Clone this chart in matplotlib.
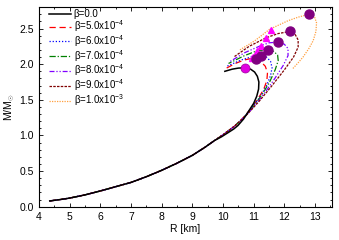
import numpy as np
import matplotlib.pyplot as plt
from matplotlib.ticker import MultipleLocator

plt.rcParams['font.family'] = ['Liberation Sans', 'DejaVu Sans']
plt.rcParams['mathtext.fontset'] = 'custom'
plt.rcParams['mathtext.rm'] = 'Liberation Sans'

# low-mass part shared by all curves
base_R = [4.35, 4.7, 5.0, 5.5, 6.0, 6.5, 7.0, 7.5, 8.0, 8.5, 9.0, 9.4, 9.73]
base_M = [0.08, 0.10, 0.12, 0.165, 0.22, 0.28, 0.34, 0.42, 0.51, 0.61, 0.72, 0.83, 0.93]

# beta = 0
R_b0 = base_R + [9.95, 10.17, 10.35, 10.49, 10.67, 10.82, 11.0, 11.1, 11.16, 11.17,
                 11.12, 11.03, 10.9, 10.73, 10.5, 10.3, 10.06]
M_b0 = base_M + [0.98, 1.04, 1.09, 1.14, 1.23, 1.33, 1.45, 1.55, 1.65, 1.75,
                 1.83, 1.89, 1.93, 1.95, 1.945, 1.93, 1.90]

# beta = 5e-4
R_b5 = base_R + [10.0, 10.3, 10.6, 10.9, 11.15, 11.33, 11.43, 11.45, 11.38, 11.25,
                 11.07, 10.93, 10.7, 10.4, 10.05]
M_b5 = base_M + [1.01, 1.10, 1.22, 1.37, 1.52, 1.65, 1.77, 1.88, 1.97, 2.03,
                 2.07, 2.08, 2.06, 2.01, 1.93]

# beta = 6e-4
R_b6 = base_R + [10.0, 10.32, 10.65, 10.95, 11.22, 11.42, 11.55, 11.6, 11.55, 11.42,
                 11.25, 10.98, 10.6, 10.12]
M_b6 = base_M + [1.01, 1.11, 1.24, 1.39, 1.55, 1.70, 1.84, 1.95, 2.04, 2.10,
                 2.12, 2.11, 2.06, 1.97]

# beta = 7e-4
R_b7 = base_R + [10.0, 10.35, 10.7, 11.02, 11.3, 11.52, 11.7, 11.8, 11.78, 11.65,
                 11.47, 11.12, 10.7, 10.18]
M_b7 = base_M + [1.01, 1.12, 1.26, 1.42, 1.59, 1.75, 1.92, 2.05, 2.13, 2.18,
                 2.20, 2.19, 2.12, 2.01]

# beta = 8e-4
R_b8 = base_R + [10.0, 10.38, 10.75, 11.1, 11.4, 11.69, 11.96, 12.12, 12.12, 12.0,
                 11.8, 11.5, 11.23, 10.7, 10.2]
M_b8 = base_M + [1.01, 1.13, 1.28, 1.45, 1.62, 1.80, 1.98, 2.12, 2.22, 2.28,
                 2.31, 2.30, 2.26, 2.16, 2.03]

# beta = 9e-4
R_b9 = base_R + [10.0, 10.4, 10.8, 11.2, 11.6, 12.0, 12.3, 12.45, 12.45, 12.35,
                 12.19, 11.8, 11.4, 10.85, 10.35]
M_b9 = base_M + [1.01, 1.14, 1.30, 1.49, 1.70, 1.92, 2.10, 2.24, 2.34, 2.42,
                 2.46, 2.43, 2.37, 2.25, 2.10]

# beta = 1e-3 (only upper part drawn)
R_b10 = [12.28, 12.45, 12.61, 12.8, 12.94, 13.03, 13.05, 12.98, 12.8, 12.45,
         12.12, 11.52, 11.04, 10.55]
M_b10 = [1.94, 2.02, 2.10, 2.22, 2.33, 2.46, 2.58, 2.67, 2.70, 2.66,
         2.61, 2.49, 2.33, 2.20]

# maximum-mass points
Rmax = [11.07, 11.25, 11.47, 11.8, 12.19, 12.8]
Mmax = [2.07, 2.12, 2.20, 2.31, 2.46, 2.70]
Rmax0, Mmax0 = 10.73, 1.95

# triangle markers
R_tri = [10.93, 10.98, 11.12, 11.23, 11.4, 11.55]
M_tri = [2.08, 2.10, 2.19, 2.26, 2.37, 2.48]

labels = ['β=0.0', 'β=5.0x10$^{-4}$', 'β=6.0x10$^{-4}$',
          'β=7.0x10$^{-4}$', 'β=8.0x10$^{-4}$', 'β=9.0x10$^{-4}$',
          'β=1.0x10$^{-3}$']

fig = plt.figure(figsize=(3.39, 2.40), dpi=100)
ax = fig.add_axes([0.115, 0.139, 0.864, 0.831])

ax.plot(R_b0, M_b0, color='black', lw=1.1, label=labels[0], zorder=5)
ax.plot(R_b5, M_b5, color='red', lw=0.9, ls=(0, (5, 3)), label=labels[1])
ax.plot(R_b6, M_b6, color='#0000ff', lw=0.9, ls=(0, (1, 1.5)), label=labels[2])
ax.plot(R_b7, M_b7, color='#008000', lw=0.9, ls=(0, (5, 1.5, 1, 1.5)), label=labels[3])
ax.plot(R_b8, M_b8, color='#8000ff', lw=0.9, ls=(0, (4, 1.5, 1, 1.5, 1, 1.5)), label=labels[4])
ax.plot(R_b9, M_b9, color='#800000', lw=0.9, ls=(0, (2, 1)), label=labels[5])
ax.plot(R_b10, M_b10, color='#ffa040', lw=0.9, ls=(0, (1, 1)), label=labels[6])

ax.plot(R_tri, M_tri, ls='none', marker='^', ms=5, color='#ff00ff', zorder=6)
ax.plot(Rmax, Mmax, ls='none', marker='o', ms=6.5, color='#800080', zorder=7)
ax.plot([Rmax0], [Mmax0], ls='none', marker='o', ms=6.5, color='#e000e0',
        mec='#a000a0', mew=0.5, zorder=7)

ax.set_xlim(4, 13.55)
ax.set_ylim(0, 2.8)
ax.xaxis.set_major_locator(MultipleLocator(1))
ax.xaxis.set_minor_locator(MultipleLocator(0.5))
ax.yaxis.set_major_locator(MultipleLocator(0.5))
ax.yaxis.set_minor_locator(MultipleLocator(0.1))
ax.yaxis.set_major_formatter(plt.FormatStrFormatter('%.1f'))
ax.tick_params(which='both', direction='in', top=True, right=True, labelsize=7.5, width=0.6)
ax.tick_params(which='major', length=3)
ax.tick_params(which='minor', length=1.5)
for s in ax.spines.values():
    s.set_linewidth(0.8)

ax.set_xlabel('R [km]', fontsize=7.5, labelpad=2)
ax.set_ylabel(r'M/M$_{\odot}$', fontsize=7.5, labelpad=2)

ax.legend(loc='upper left', bbox_to_anchor=(0.027, 1.0), frameon=False, fontsize=7,
          handlelength=2.3, handletextpad=0.25, labelspacing=-0.1,
          borderaxespad=0, borderpad=0.2)

fig.savefig('out.png', dpi=100)
